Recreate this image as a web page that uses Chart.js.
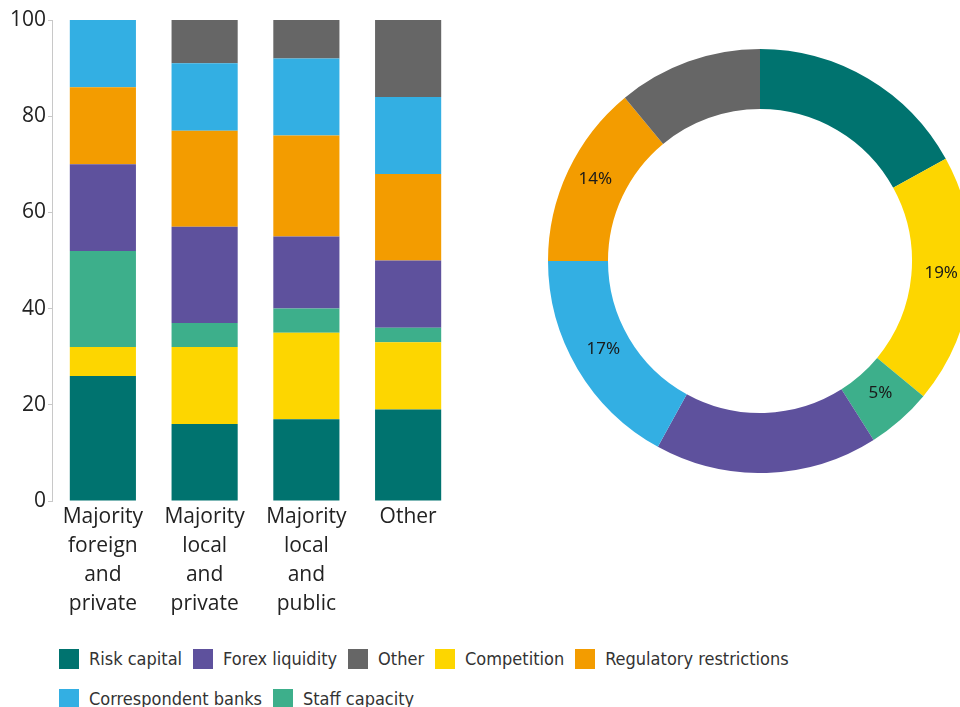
<!DOCTYPE html>
<html>
<head>
<meta charset="utf-8">
<script src="https://cdn.jsdelivr.net/npm/chart.js@4"></script>
<style>
  html, body { margin: 0; padding: 0; background: #fff; overflow: hidden; }
  body { width: 960px; height: 707px; position: relative; }
  #barBox { position: absolute; left: 0; top: 0; width: 480px; height: 620px; }
  #donutBox { position: absolute; left: 548px; top: 49px; width: 424px; height: 424px; }
  #legend {
    position: absolute; left: 59px; top: 648px; width: 780px;
    display: flex; flex-wrap: wrap; row-gap: 19px;
    font-family: "Liberation Sans Narrow", "DejaVu Sans Condensed", Roboto, sans-serif;
    font-size: 18px; color: #333;
  }
  .item { display: flex; align-items: center; margin-right: 11px; height: 21px; }
  .swatch { width: 20px; height: 20px; margin-right: 10px; }
</style>
</head>
<body>
<div id="barBox"><canvas id="bars" width="480" height="620"></canvas></div>
<div id="donutBox"><canvas id="donut" width="424" height="424"></canvas></div>
<div id="legend"></div>

<script>
// ===============================
// Data
// ===============================

const groups = [
  ["Majority", "foreign", "and", "private"],
  ["Majority", "local", "and", "private"],
  ["Majority", "local", "and", "public"],
  ["Other"]
];
const yTicks = [0, 20, 40, 60, 80, 100];

// stacked bars, bottom to top
const riskCapital   = [26, 16, 17, 19];
const competition   = [6, 16, 18, 14];
const staffCapacity = [20, 5, 5, 3];
const forexLiquid   = [18, 20, 15, 14];
const regulatory    = [16, 20, 21, 18];
const correspondent = [14, 14, 16, 16];
const otherReason   = [0, 9, 8, 16];

// doughnut, clockwise from the top
const donutNames  = ["Risk capital", "Competition", "Staff capacity", "Forex liquidity",
                     "Correspondent banks", "Regulatory restrictions", "Other"];
const donutShares = [17, 19, 5, 17, 17, 14, 11];
const donutLabelShown = [false, true, true, false, true, true, false];

// legend order as in the picture
const legendNames = ["Risk capital", "Forex liquidity", "Other", "Competition",
                     "Regulatory restrictions", "Correspondent banks", "Staff capacity"];

// ===============================
// Colours
// ===============================

const colours = {
  "Risk capital": "#00736f",
  "Forex liquidity": "#5e519d",
  "Other": "#666666",
  "Competition": "#fdd600",
  "Regulatory restrictions": "#f39c00",
  "Correspondent banks": "#33afe3",
  "Staff capacity": "#3daf8b"
};

const axisFont = "'Open Sans', 'Noto Sans', sans-serif";

// -------------------------------
// Chart 1: stacked bars
// -------------------------------

const barSeries = [
  ["Risk capital", riskCapital],
  ["Competition", competition],
  ["Staff capacity", staffCapacity],
  ["Forex liquidity", forexLiquid],
  ["Regulatory restrictions", regulatory],
  ["Correspondent banks", correspondent],
  ["Other", otherReason]
];

new Chart(document.getElementById("bars"), {
  type: "bar",
  data: {
    labels: groups,
    datasets: barSeries.map(s => ({
      label: s[0],
      data: s[1],
      backgroundColor: colours[s[0]],
      borderWidth: 0,
      barPercentage: 0.65,
      categoryPercentage: 1
    }))
  },
  options: {
    responsive: false,
    animation: false,
    layout: { padding: { top: 20, right: 21, left: 0, bottom: 0 } },
    plugins: { legend: { display: false }, tooltip: { enabled: false } },
    scales: {
      x: {
        stacked: true,
        grid: { display: false },
        border: { display: false },
        ticks: {
          color: "#222",
          padding: -6,
          maxRotation: 0,
          autoSkip: false,
          font: { family: axisFont, size: 21, lineHeight: 1.38 }
        },
        afterFit: scale => { scale.height = 119; }
      },
      y: {
        stacked: true,
        min: 0,
        max: 100,
        afterBuildTicks: scale => { scale.ticks = yTicks.map(v => ({ value: v })); },
        grid: { drawOnChartArea: false, color: "#c8c8c8", tickLength: 4 },
        border: { color: "#c8c8c8" },
        ticks: {
          color: "#222",
          padding: 2,
          font: { family: axisFont, size: 21 }
        },
        afterFit: scale => { scale.width = 52; }
      }
    }
  }
});

// -------------------------------
// Chart 2: doughnut
// -------------------------------

const sliceLabels = {
  id: "sliceLabels",
  afterDatasetsDraw(chart) {
    const ctx = chart.ctx;
    const arcs = chart.getDatasetMeta(0).data;
    ctx.save();
    ctx.font = "17px 'Noto Sans', sans-serif";
    ctx.fillStyle = "#1a1a1a";
    ctx.textAlign = "center";
    ctx.textBaseline = "alphabetic";
    arcs.forEach((arc, i) => {
      if (!donutLabelShown[i]) return;
      const p = arc.tooltipPosition();
      ctx.fillText(donutShares[i] + "%", p.x, p.y);
    });
    ctx.restore();
  }
};

new Chart(document.getElementById("donut"), {
  type: "doughnut",
  data: {
    labels: donutNames,
    datasets: [{
      data: donutShares,
      backgroundColor: donutNames.map(n => colours[n]),
      borderWidth: 0
    }]
  },
  options: {
    responsive: false,
    animation: false,
    cutout: "71.7%",
    layout: { padding: 0 },
    plugins: { legend: { display: false }, tooltip: { enabled: false } }
  },
  plugins: [sliceLabels]
});

// -------------------------------
// Legend
// -------------------------------

const legend = document.getElementById("legend");
legendNames.forEach(name => {
  const item = document.createElement("div");
  item.className = "item";
  const sw = document.createElement("span");
  sw.className = "swatch";
  sw.style.background = colours[name];
  const txt = document.createElement("span");
  txt.textContent = name;
  item.appendChild(sw);
  item.appendChild(txt);
  legend.appendChild(item);
});
</script>
</body>
</html>
